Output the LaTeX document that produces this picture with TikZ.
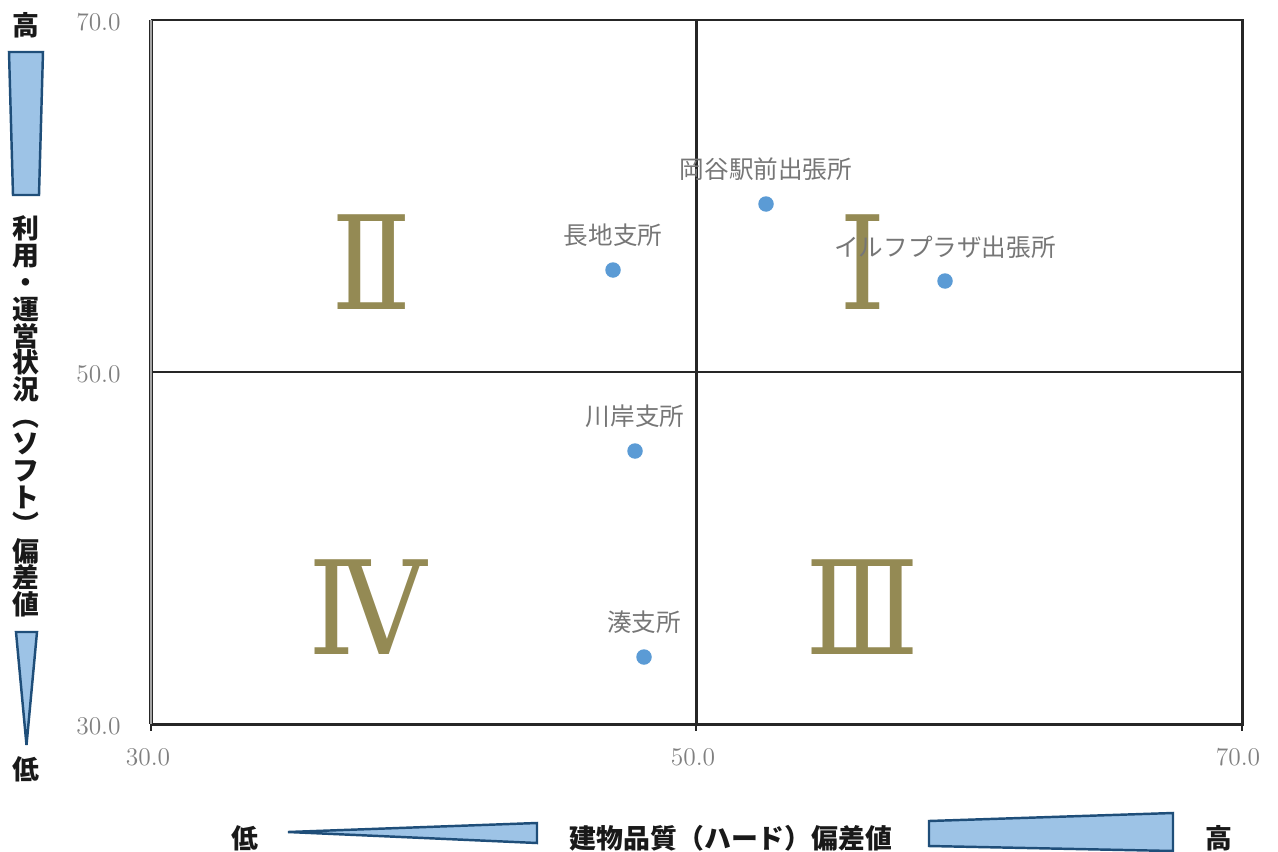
\documentclass[tikz,border=0pt]{standalone}
\usepackage{fontspec}
\newfontfamily\jp{Noto Sans CJK JP}
\newfontfamily\jpnum[FakeStretch=0.91]{DejaVu Serif}
\definecolor{dotblue}{HTML}{5B9BD5}
\definecolor{wedgefill}{HTML}{9DC3E6}
\definecolor{wedgeline}{HTML}{1F4E79}
\definecolor{olive}{HTML}{948A54}
\definecolor{lblgray}{HTML}{767676}
\definecolor{tickgray}{HTML}{808080}
\definecolor{gridblack}{HTML}{262626}
\tikzset{
  dot/.style={circle, fill=dotblue, inner sep=0pt, minimum size=0.31cm},
  lbl/.style={font=\jp\fontsize{14pt}{16pt}\selectfont, text=lblgray, inner sep=0pt},
  ticklbl/.style={font=\fontsize{14.5pt}{16pt}\selectfont, text=tickgray, inner sep=0pt},
  roman/.style={font=\jpnum\fontsize{74pt}{74pt}\selectfont, text=olive, inner sep=0pt},
  axlab/.style={font=\jp\bfseries\fontsize{15.3pt}{15.3pt}\selectfont, text=black!90, inner sep=0pt},
  gridline/.style={draw=gridblack, line width=1.7pt},
  wedge/.style={fill=wedgefill, draw=wedgeline, line width=1.4pt, line join=miter},
}
\begin{document}
\begin{tikzpicture}[x=0.02cm, y=-0.02cm]
\useasboundingbox (0,0) rectangle (1278,852);
% frame
\coordinate (tl) at (151,20);
\coordinate (tr) at (1242,20);
\coordinate (bl) at (151,724);
\coordinate (br) at (1242,724);
\coordinate (mt) at (696,20);
\coordinate (mb) at (696,724);
\coordinate (ml) at (151,372);
\coordinate (mr) at (1242,372);
\draw[gridline] (tl) -- (tr) -- (br) -- (bl);
\draw[gridline] (mt) -- (mb);
\draw[gridline] (ml) -- (mr);
\draw[draw=gridblack, line width=2.2pt] (bl) -- (tl);
\draw[draw=black!35, line width=1.0pt] (bl) -- (tl);
% ticks
\draw[gridline, line width=1.4pt] (151,724) -- (151,731);
\draw[gridline, line width=1.4pt] (696,724) -- (696,731);
\draw[gridline, line width=1.4pt] (1242,724) -- (1242,731);
% tick labels
\node[ticklbl, anchor=east] (y70) at (121,22) {70.0};
\node[ticklbl, anchor=east] (y50) at (121,374) {50.0};
\node[ticklbl, anchor=east] (y30) at (121,726) {30.0};
\node[ticklbl] (x30) at (148,757) {30.0};
\node[ticklbl] (x50) at (693,757) {50.0};
\node[ticklbl] (x70) at (1238,757) {70.0};
% roman numerals
\node[roman] (q2) at (372,262) {Ⅱ};
\node[roman] (q1) at (863,262) {Ⅰ};
\node[roman] (q4) at (368,607) {Ⅳ};
\node[roman] (q3) at (863,607) {Ⅲ};
% data points
\node[dot] (p1) at (766,204) {};
\node[dot] (p2) at (613,270) {};
\node[dot] (p3) at (945,281) {};
\node[dot] (p4) at (635,451) {};
\node[dot] (p5) at (644,657) {};
\node[lbl] (l1) at (766,169) {岡谷駅前出張所};
\node[lbl] (l2) at (613,235) {長地支所};
\node[lbl] (l3) at (945,247) {イルフプラザ出張所};
\node[lbl] (l4) at (635,416) {川岸支所};
\node[lbl] (l5) at (644,622) {湊支所};
% left axis annotation
\node[axlab] (yhi) at (26,25) {高};
\draw[wedge] (9,52) -- (43,52) -- (39,195) -- (13,195) -- cycle;
\node[axlab, align=center] (ytitle) at (26,416.5) {利\\用\\・\\運\\営\\状\\況\\︵\\ソ\\フ\\ト\\︶\\偏\\差\\値};
\draw[wedge] (16,632) -- (37,632) -- (26.5,745) -- cycle;
\node[axlab] (ylo) at (26,769) {低};
% bottom axis annotation
\node[axlab] (xlo) at (245,838) {低};
\draw[wedge] (288,832) -- (537,823) -- (537,843) -- cycle;
\node[axlab] (xtitle) at (731,838) {建物品質（ハード）偏差値};
\draw[wedge] (929,821) -- (1173,813) -- (1173,851) -- (929,846) -- cycle;
\node[axlab] (xhi) at (1219,838) {高};
\end{tikzpicture}
\end{document}
